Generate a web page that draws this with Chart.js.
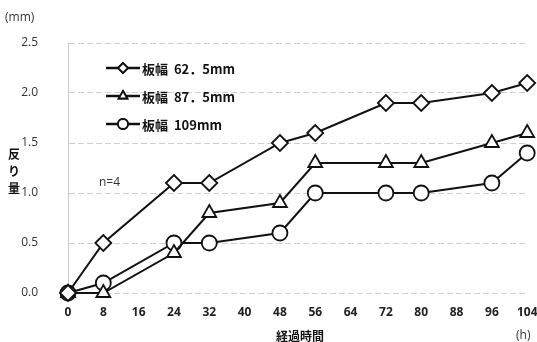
<!DOCTYPE html>
<html>
<head>
<meta charset="utf-8">
<script src="https://cdn.jsdelivr.net/npm/chart.js@4.4.0/dist/chart.umd.min.js"></script>
<style>
  html, body { margin: 0; padding: 0; background: #fff; }
  #wrap { width: 537px; height: 342px; }
</style>
</head>
<body>
<div id="wrap"><canvas id="myChart" width="537" height="342"></canvas></div>
<script>
// elapsed time (h)
var hours = [0, 8, 24, 32, 48, 56, 72, 80, 96, 104];
var names = ["板幅  62．5mm", "板幅  87．5mm", "板幅  109mm"];
var w625 = [0, 0.5, 1.1, 1.1, 1.5, 1.6, 1.9, 1.9, 2.0, 2.1];
var w875 = [0, 0, 0.4, 0.8, 0.9, 1.3, 1.3, 1.3, 1.5, 1.6];
var w109 = [0, 0.1, 0.5, 0.5, 0.6, 1.0, 1.0, 1.0, 1.1, 1.4];
var markers = ["rectRot", "triangle", "circle"];
var markerSize = [8, 8, 7.5];

var jp = "'Noto Sans CJK JP', 'Noto Sans', sans-serif";
var lat = "'Open Sans', 'Noto Sans', sans-serif";

function pts(ys) {
  return hours.map(function (h, i) { return {x: h, y: ys[i]}; });
}

var series = [w625, w875, w109];
var datasets = series.map(function (s, i) {
  return {
    label: names[i],
    data: pts(s),
    borderColor: "#111",
    borderWidth: 2,
    backgroundColor: "#fff",
    pointStyle: markers[i],
    pointRadius: markerSize[i],
    pointBorderWidth: 1.8,
    pointBackgroundColor: "#fff",
    pointBorderColor: "#111",
    clip: false,
    tension: 0
  };
});

var extras = {
  id: "extras",
  afterDraw: function (chart) {
    var c = chart.ctx;
    c.save();
    c.fillStyle = "#333";
    c.font = "12px " + lat;
    c.textBaseline = "middle";
    c.textAlign = "left";
    c.fillText("(mm)", 5, 18);
    c.fillText("n=4", 99, 183);
    c.fillText("(h)", 516, 336);

    c.fillStyle = "#111";
    c.font = "bold 12px " + jp;
    c.textAlign = "center";
    ["反", "り", "量"].forEach(function (ch, i) {
      c.fillText(ch, 14, 154 + i * 17);
    });
    c.fillText("経過時間", 300, 336);

    // legend
    var rows = [68, 96, 124];
    chart.data.datasets.forEach(function (ds, i) {
      var y = rows[i];
      c.strokeStyle = "#111";
      c.lineWidth = 2.5;
      c.beginPath();
      c.moveTo(106, y);
      c.lineTo(140, y);
      c.stroke();
      c.lineWidth = 1.8;
      c.fillStyle = "#fff";
      Chart.helpers.drawPoint(c, {pointStyle: ds.pointStyle, radius: 5, borderWidth: 1.8}, 123, y);
      c.fill();
      c.stroke();
      c.fillStyle = "#111";
      c.textAlign = "left";
      c.font = "bold 13px " + jp;
      c.fillText(ds.label, 142, y + 1);
    });
    c.restore();
  }
};

new Chart("myChart", {
  type: "line",
  data: { datasets: datasets },
  options: {
    responsive: false,
    animation: false,
    layout: { padding: { top: 43, right: 8, left: 0, bottom: 0 } },
    plugins: { legend: { display: false }, tooltip: { enabled: false } },
    scales: {
      x: {
        type: "linear",
        min: 0, max: 104,
        afterFit: function (s) { s.height = 49; s.paddingRight = 0; s.paddingLeft = 0; },
        ticks: { stepSize: 8, color: "#222", font: { family: lat, size: 12, weight: "bold" }, padding: 4, maxRotation: 0 },
        grid: { display: false },
        border: { display: false }
      },
      y: {
        min: 0, max: 2.5,
        afterFit: function (s) { s.width = 68; },
        ticks: {
          stepSize: 0.5, color: "#333", padding: 30,
          font: { family: lat, size: 12 },
          callback: function (v) { return v.toFixed(1); }
        },
        grid: { color: "#cfcfcf", lineWidth: 1, drawTicks: false },
        border: { display: true, color: "#c8c8c8", width: 1, dash: [6, 3] }
      }
    }
  },
  plugins: [extras]
});
</script>
</body>
</html>
